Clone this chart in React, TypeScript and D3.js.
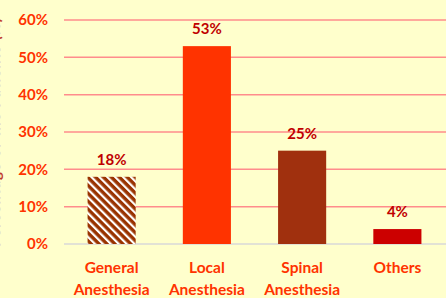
import * as d3 from "d3";

const categories = [["General", "Anesthesia"], ["Local", "Anesthesia"], ["Spinal", "Anesthesia"], ["Others"]];
const values = [18, 53, 25, 4];
const barColors = ["url(#hatch)", "#FF3300", "#A0300E", "#CC0000"];
const yTicks = [0, 10, 20, 30, 40, 50, 60];

const width = 446;
const height = 298;
const marginLeft = 64;
const marginRight = 1;
const marginTop = 20;
const marginBottom = 54;

export default function App() {
  const x = d3
    .scaleBand<number>()
    .domain(d3.range(values.length))
    .range([marginLeft, width - marginRight])
    .paddingInner(0.495)
    .paddingOuter(0.2475);
  const y = d3.scaleLinear().domain([0, 60]).range([height - marginBottom, marginTop]);
  const font = "Lato, 'Open Sans', sans-serif";

  return (
    <svg
      width={width}
      height={height}
      style={{ position: "absolute", left: 0, top: 0, background: "#FFFFCC" }}
      fontFamily={font}
      fontWeight="bold"
    >
      <defs>
        <pattern id="hatch" patternUnits="userSpaceOnUse" width={5.6} height={5.6} patternTransform="rotate(-45)">
          <rect width={5.6} height={5.6} fill="#993300" />
          <rect width={2.2} height={5.6} fill="#FFFFFF" />
        </pattern>
      </defs>
      <rect width={width} height={height} fill="#FFFFCC" />

      {/* y axis title, almost entirely cut off at the left edge */}
      <text
        transform={`translate(-0.4,${(marginTop + height - marginBottom) / 2}) rotate(-90)`}
        textAnchor="middle"
        fontSize={15}
        fill="#C0392B"
        letterSpacing={1}
      >
        Percentage of the Patients (%)
      </text>

      {yTicks.map((t) => (
        <g key={t}>
          <line
            x1={marginLeft}
            x2={width}
            y1={y(t)}
            y2={y(t)}
            stroke={t === 0 ? "#D9D9D9" : "#FF8C8C"}
            strokeWidth={1.5}
          />
          <text x={48} y={y(t)} dy="0.35em" textAnchor="end" fontSize={15} fill="#FF3300">
            {t}%
          </text>
        </g>
      ))}

      {values.map((v, i) => (
        <g key={i}>
          <rect
            x={x(i)}
            y={y(v)}
            width={x.bandwidth()}
            height={y(0) - y(v)}
            fill={barColors[i]}
          />
          <text
            x={(x(i) as number) + x.bandwidth() / 2}
            y={y(v) - 12}
            textAnchor="middle"
            fontSize={15}
            fill="#C00000"
          >
            {v}%
          </text>
          {categories[i].map((line, j) => (
            <text
              key={j}
              x={(x(i) as number) + x.bandwidth() / 2}
              y={273 + j * 22}
              textAnchor="middle"
              fontSize={15.5}
              fill="#FF3300"
            >
              {line}
            </text>
          ))}
        </g>
      ))}
    </svg>
  );
}
